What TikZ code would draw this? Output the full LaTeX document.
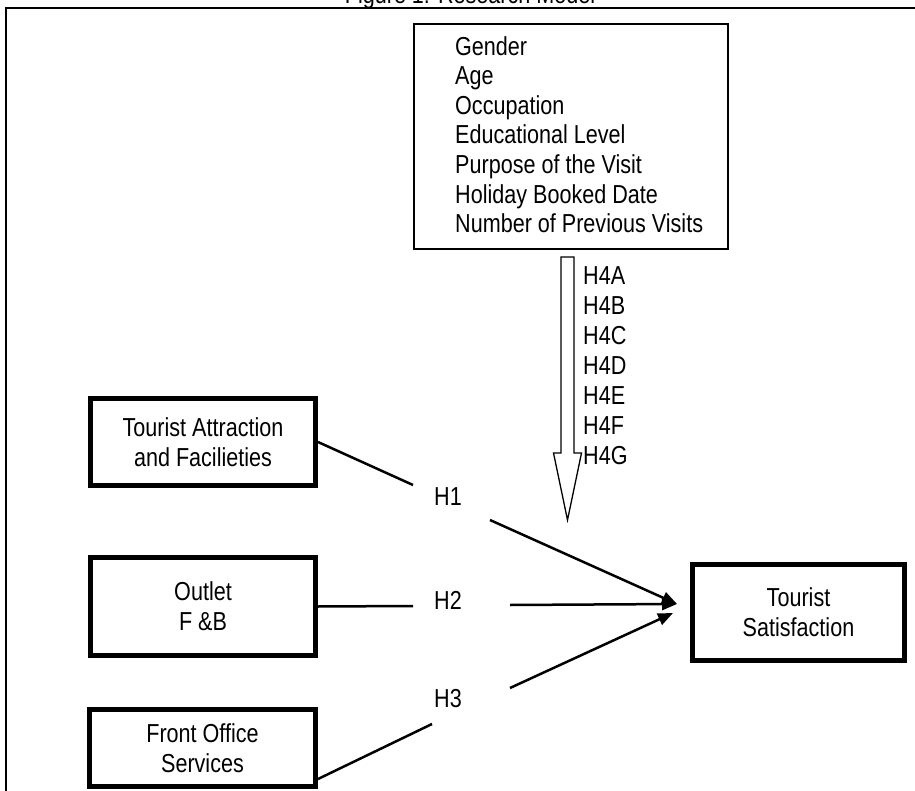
\documentclass[tikz,border=0pt]{standalone}
\usepackage{fontspec}
\setmainfont{Liberation Sans}[FakeStretch=0.83]
\usetikzlibrary{arrows.meta}

\begin{document}
\begin{tikzpicture}[x=1pt, y=-1pt, >={Triangle[length=15pt,width=12pt]}]
	\tikzstyle{every node}=[inner sep=0pt, align=center, font=\fontsize{26}{29.6}\selectfont]
	\tikzstyle{factor}=[draw, line width=5pt]
	\tikzstyle{link}=[line width=2.5pt]
	\useasboundingbox (0,0) rectangle (915,791);
	% frame and caption
	\draw[line width=2pt] (6,830) -- (6,8) -- (930,8);
	\node[anchor=base] (caption) at (470,4) {Figure 1: Research Model};
	% demographic variables
	\node[draw, line width=1.8pt, minimum width=314pt, minimum height=225pt] (demo) at (571,136.5) {};
	\node[anchor=north west, align=left] (demovars) at (455,36) {Gender\\Age\\Occupation\\Educational Level\\Purpose of the Visit\\Holiday Booked Date\\Number of Previous Visits};
	\coordinate (tail) at (567.5,257);
	\coordinate (tip) at (567.5,520);
	\draw[line width=1.3pt, fill=white] ([xshift=-6.5pt]tail) -- ([xshift=6.5pt]tail) -- ([xshift=6.5pt,yshift=67pt]tip) -- ([xshift=14pt,yshift=67pt]tip) -- (tip) -- ([xshift=-14pt,yshift=67pt]tip) -- ([xshift=-6.5pt,yshift=67pt]tip) -- cycle;
	\node[anchor=north west, align=left, font=\fontsize{26}{30}\selectfont] (h4) at (583,266) {H4A\\H4B\\H4C\\H4D\\H4E\\H4F\\H4G};
	% factors
	\node[factor, minimum width=225pt, minimum height=87pt] (attr) at (203,442) {Tourist Attraction\\and Facilieties};
	\node[factor, minimum width=225pt, minimum height=98pt] (fnb) at (203,606.5) {Outlet\\F \&B};
	\node[factor, minimum width=226pt, minimum height=77pt] (front) at (202.5,748) {Front Office\\Services};
	\node[factor, minimum width=212pt, minimum height=96pt] (sat) at (798.5,612.5) {Tourist\\Satisfaction};
	% hypotheses
	\node (h1) at (448,497) {H1};
	\node (h2) at (448,600) {H2};
	\node (h3) at (448,699) {H3};
	\coordinate (g1a) at (413,485);
	\coordinate (g1b) at (490,520);
	\coordinate (g2a) at (413,606);
	\coordinate (g2b) at (510,605);
	\coordinate (g3a) at (432,724);
	\coordinate (g3b) at (510,688);
	\coordinate (in1) at (677,604);
	\coordinate (in3) at (673,613);
	\draw[link] (attr.east) -- (g1a);
	\draw[link, ->] (g1b) -- (in1);
	\draw[link] (fnb.east) -- (g2a);
	\draw[link, ->] (g2b) -- (in1);
	\draw[link] ([yshift=10pt]front.south east) -- (g3a);
	\draw[link, ->] (g3b) -- (in3);
\end{tikzpicture}
\end{document}
